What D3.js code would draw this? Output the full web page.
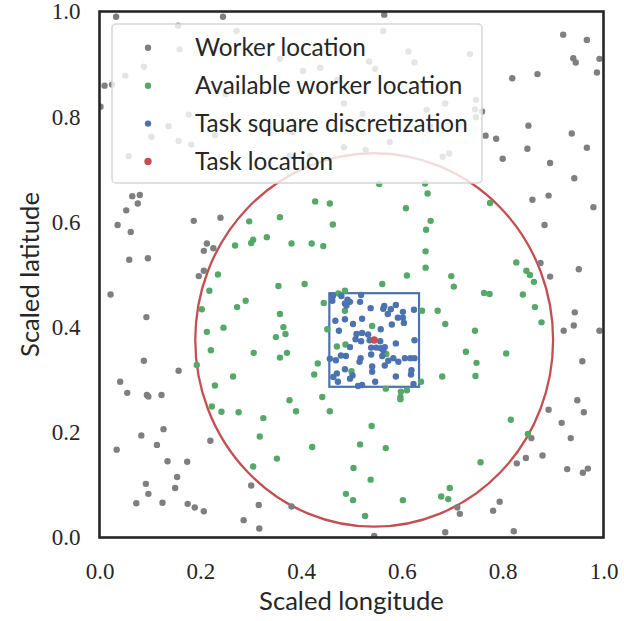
<!DOCTYPE html>
<html>
<head>
<meta charset="utf-8">
<script src="https://cdn.jsdelivr.net/npm/d3@7"></script>
<style>
body{margin:0;background:#fff}
</style>
</head>
<body>
<div id="chart"></div>
<script>

// data (scaled coords)
var workers = [[0.033,0.990],[0.156,0.973],[0.159,0.928],[0.088,0.895],[0.051,0.878],[0.010,0.859],[0.025,0.861],[0.002,0.819],[0.177,0.804],[0.137,0.782],[0.103,0.762],[0.157,0.754],[0.182,0.747],[0.229,0.765],[0.058,0.725],[0.245,0.990],[0.272,0.963],[0.358,0.910],[0.404,0.887],[0.438,0.893],[0.250,0.843],[0.472,0.870],[0.485,0.825],[0.383,0.771],[0.485,0.742],[0.377,0.726],[0.418,0.726],[0.565,0.994],[0.563,0.963],[0.613,0.924],[0.535,0.905],[0.547,0.891],[0.625,0.903],[0.735,0.919],[0.522,0.805],[0.649,0.813],[0.686,0.825],[0.747,0.832],[0.745,0.814],[0.747,0.799],[0.656,0.781],[0.576,0.752],[0.528,0.737],[0.681,0.724],[0.694,0.730],
  [0.920,0.956],[0.967,0.946],[0.940,0.911],[0.945,0.903],[0.992,0.910],[0.987,0.884],[0.819,0.873],[0.869,0.881],[0.759,0.810],[0.851,0.783],[0.766,0.764],[0.787,0.758],[0.937,0.768],[0.849,0.739],[0.967,0.741],[0.800,0.720],[0.894,0.712],[0.942,0.683],
  [0.065,0.649],[0.080,0.651],[0.076,0.635],[0.053,0.622],[0.036,0.594],[0.062,0.581],[0.187,0.602],[0.240,0.608],[0.213,0.559],[0.207,0.545],[0.226,0.550],[0.059,0.528],[0.096,0.531],[0.207,0.507],[0.197,0.497],[0.022,0.462],[0.093,0.419],[0.088,0.336],
  [0.859,0.642],[0.891,0.650],[0.980,0.628],[0.883,0.594],[0.875,0.522],[0.894,0.496],[0.951,0.510],[0.943,0.428],[0.941,0.403],[0.921,0.393],[0.992,0.393],[0.958,0.335],
  [0.157,0.317],[0.041,0.296],[0.055,0.275],[0.094,0.271],[0.097,0.268],[0.123,0.271],[0.127,0.206],[0.083,0.194],[0.114,0.176],[0.034,0.167],[0.135,0.145],[0.174,0.144],[0.154,0.115],[0.092,0.102],[0.150,0.094],[0.097,0.083],[0.073,0.065],[0.125,0.066],[0.175,0.064],[0.189,0.057],[0.207,0.050],[0.220,0.184],
  [0.301,0.099],[0.316,0.062],[0.381,0.059],[0.286,0.033],[0.317,0.017],
  [0.710,0.057],[0.715,0.045],[0.545,0.003],[0.686,0.010],
  [0.891,0.243],[0.948,0.261],[0.961,0.238],[0.917,0.218],[0.857,0.189],[0.935,0.189],[0.879,0.156],[0.846,0.151],[0.828,0.141],[0.928,0.130],[0.959,0.123],[0.969,0.131],[0.794,0.068],[0.781,0.051],[0.822,0.012]];

var available = [[0.555,0.672],[0.646,0.673],[0.235,0.500],[0.218,0.469],[0.203,0.434],[0.213,0.391],[0.246,0.399],[0.221,0.356],
  [0.428,0.639],[0.457,0.635],[0.463,0.595],[0.297,0.601],[0.358,0.609],[0.332,0.571],[0.305,0.566],[0.301,0.560],[0.269,0.555],[0.381,0.559],[0.421,0.559],[0.444,0.554],[0.355,0.478],[0.407,0.482],[0.290,0.450],[0.273,0.438],[0.445,0.446],[0.358,0.425],[0.365,0.400],[0.369,0.387],[0.350,0.381],[0.452,0.396],[0.306,0.351],[0.372,0.351],[0.358,0.342],[0.433,0.331],[0.487,0.469],[0.474,0.464],[0.487,0.431],[0.488,0.367],[0.471,0.363],
  [0.651,0.654],[0.608,0.626],[0.657,0.602],[0.648,0.585],[0.647,0.544],[0.647,0.513],[0.610,0.498],[0.561,0.482],[0.698,0.497],[0.703,0.477],[0.640,0.431],[0.671,0.431],[0.686,0.406],[0.745,0.393],[0.727,0.353],[0.748,0.332],[0.541,0.402],[0.569,0.349],
  [0.775,0.636],[0.827,0.523],[0.847,0.507],[0.854,0.499],[0.862,0.486],[0.763,0.465],[0.774,0.463],[0.840,0.462],[0.864,0.438],[0.877,0.409],[0.807,0.350],
  [0.193,0.328],[0.229,0.289],[0.223,0.249],[0.242,0.239],
  [0.265,0.306],[0.426,0.310],[0.276,0.238],[0.325,0.227],[0.377,0.261],[0.390,0.240],[0.442,0.267],[0.457,0.240],[0.318,0.192],[0.422,0.172],[0.352,0.150],[0.305,0.135],[0.489,0.083],
  [0.500,0.316],[0.638,0.296],[0.680,0.306],[0.746,0.307],[0.568,0.283],[0.598,0.277],[0.610,0.280],[0.597,0.267],[0.597,0.263],[0.540,0.212],[0.517,0.177],[0.568,0.170],[0.504,0.132],[0.538,0.110],[0.503,0.071],[0.602,0.071],[0.527,0.041],[0.695,0.094],[0.678,0.078],[0.692,0.073],
  [0.816,0.224],[0.850,0.197],[0.756,0.143]];

var squarePts = [[0.463,0.459],[0.480,0.459],[0.462,0.450],[0.487,0.445],[0.492,0.452],[0.497,0.448],[0.490,0.441],[0.468,0.412],[0.487,0.415],[0.475,0.393],[0.497,0.362],[0.457,0.340],[0.469,0.337],[0.479,0.346],[0.489,0.345],
  [0.519,0.461],[0.517,0.448],[0.538,0.436],[0.565,0.440],[0.563,0.435],[0.578,0.434],[0.588,0.442],[0.572,0.425],[0.602,0.429],[0.592,0.418],[0.602,0.418],[0.604,0.408],[0.624,0.433],[0.521,0.416],[0.503,0.406],[0.580,0.405],[0.558,0.396],[0.510,0.387],[0.521,0.389],[0.533,0.386],[0.508,0.377],[0.519,0.373],[0.536,0.375],[0.557,0.373],[0.625,0.375],[0.588,0.369],
  [0.539,0.361],[0.549,0.361],[0.558,0.360],[0.566,0.362],[0.563,0.356],[0.539,0.348],[0.561,0.345],[0.583,0.341],[0.573,0.336],[0.593,0.334],[0.606,0.341],[0.617,0.341],[0.625,0.341],[0.518,0.341],[0.516,0.334],
  [0.541,0.325],[0.566,0.327],[0.619,0.318],[0.618,0.310],[0.541,0.315],[0.502,0.308],[0.497,0.302],[0.588,0.306],[0.547,0.296],[0.513,0.288],[0.521,0.290],[0.623,0.292],
  [0.471,0.312],[0.464,0.305],[0.473,0.296],[0.487,0.320]];

var task = [0.545, 0.3755];
var reachRadius = 0.355;
var squareHalf = 0.089;

var tickValues = [0.0, 0.2, 0.4, 0.6, 0.8, 1.0];
var legendLabels = ["Worker location", "Available worker location", "Task square discretization", "Task location"];
var legendColors = ["#7f7f7f", "#55a868", "#4c72b0", "#c44e52"];

var W = 624, H = 621;
var margin = {left: 99.5, top: 11.5};
var w = 504, h = 526;

var svg = d3.select("#chart")
            .append("svg")
            .attr("width", W)
            .attr("height", H);

var g = svg.append("g").attr("transform", "translate(" + margin.left + "," + margin.top + ")");

var x = d3.scaleLinear().domain([0, 1]).range([0, w]);
var y = d3.scaleLinear().domain([0, 1]).range([h, 0]);

svg.append("defs").append("clipPath").attr("id", "clip")
    .append("rect").attr("width", w).attr("height", h);

var plot = g.append("g").attr("clip-path", "url(#clip)");

// reach circle (round in data units)
plot.append("ellipse")
    .attr("cx", x(task[0]))
    .attr("cy", y(task[1]))
    .attr("rx", x(reachRadius) - x(0))
    .attr("ry", y(0) - y(reachRadius))
    .attr("fill", "none")
    .attr("stroke", "#c44e52")
    .attr("stroke-width", 2.3);

plot.append("rect")
    .attr("x", x(task[0] - squareHalf))
    .attr("y", y(task[1] + squareHalf))
    .attr("width", x(2 * squareHalf) - x(0))
    .attr("height", y(0) - y(2 * squareHalf))
    .attr("fill", "none")
    .attr("stroke", "#4c72b0")
    .attr("stroke-width", 2.2);

function dots(data, color, r) {
    plot.append("g").selectAll("circle")
        .data(data)
        .enter()
        .append("circle")
        .attr("cx", function(d){ return x(d[0]); })
        .attr("cy", function(d){ return y(d[1]); })
        .attr("r", r)
        .attr("fill", color);
}
dots(workers, legendColors[0], 3.2);
dots(available, legendColors[1], 3.2);
dots(squarePts, legendColors[2], 3.2);
dots([task], legendColors[3], 3.7);

// axes
var xAxis = g.append("g")
    .attr("transform", "translate(0," + h + ")")
    .call(d3.axisBottom(x).tickValues(tickValues).tickSize(0).tickPadding(25).tickFormat(d3.format(".1f")));
var yAxis = g.append("g")
    .call(d3.axisLeft(y).tickValues(tickValues).tickSize(0).tickPadding(19).tickFormat(d3.format(".1f")));
[xAxis, yAxis].forEach(function(a){
    a.select(".domain").remove();
    a.selectAll("text")
        .attr("font-family", "'Liberation Serif', serif")
        .attr("font-size", 23)
        .attr("fill", "#262626");
});

// frame
g.append("rect")
    .attr("width", w)
    .attr("height", h)
    .attr("fill", "none")
    .attr("stroke", "#262626")
    .attr("stroke-width", 2.6);

// legend
var leg = g.append("g").attr("transform", "translate(12.5,12.5)");
leg.append("rect")
    .attr("width", 370)
    .attr("height", 159)
    .attr("rx", 4)
    .attr("fill", "white")
    .attr("fill-opacity", 0.8)
    .attr("stroke", "#d6d6d6")
    .attr("stroke-width", 1.5);
legendLabels.forEach(function(lab, i){
    var yy = 23.8 + i * 37.9;
    leg.append("circle")
        .attr("cx", 36)
        .attr("cy", yy)
        .attr("r", i == 3 ? 3.7 : 3.2)
        .attr("fill", legendColors[i]);
    leg.append("text")
        .attr("x", 83)
        .attr("y", yy)
        .attr("dy", "0.33em")
        .attr("font-family", "Lato, sans-serif")
        .attr("font-size", 24.3)
        .attr("fill", "#262626")
        .text(lab);
});

// axis labels
g.append("text")
    .attr("x", w / 2)
    .attr("y", h + 72)
    .attr("text-anchor", "middle")
    .attr("font-family", "Lato, sans-serif")
    .attr("font-size", 25.6)
    .attr("fill", "#262626")
    .text("Scaled longitude");
g.append("text")
    .attr("transform", "translate(" + (39 - margin.left) + "," + (h / 2) + ") rotate(-90)")
    .attr("text-anchor", "middle")
    .attr("font-family", "Lato, sans-serif")
    .attr("font-size", 25.6)
    .attr("fill", "#262626")
    .text("Scaled latitude");

</script>
</body>
</html>
